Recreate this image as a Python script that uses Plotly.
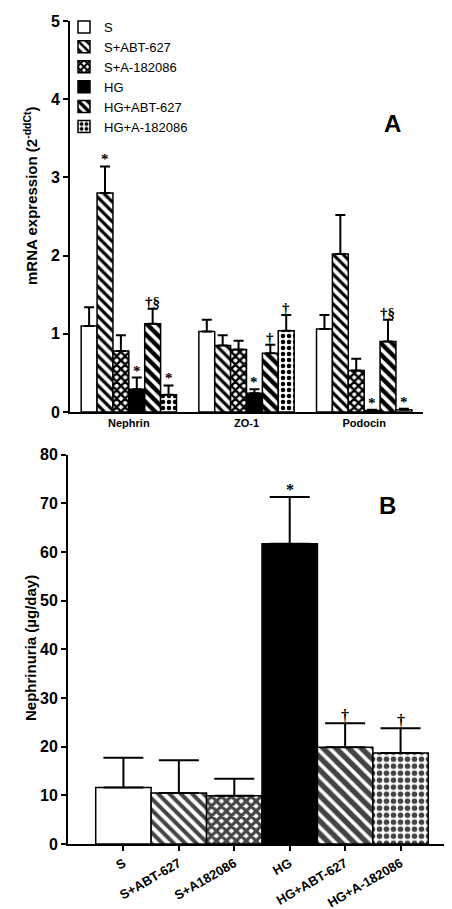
import plotly.graph_objects as go

# ---------------- data ----------------
genes = ["Nephrin", "ZO-1", "Podocin"]
groups = ["S", "S+ABT-627", "S+A-182086", "HG", "HG+ABT-627", "HG+A-182086"]
group_ticklabels = ["S", "S+ABT-627", "S+A182086", "HG", "HG+ABT-627", "HG+A-182086"]

mrna_S = [1.10, 1.03, 1.06]
mrna_S_ABT = [2.80, 0.85, 2.02]
mrna_S_A = [0.78, 0.80, 0.53]
mrna_HG = [0.29, 0.24, 0.02]
mrna_HG_ABT = [1.13, 0.75, 0.90]
mrna_HG_A = [0.22, 1.04, 0.03]

sem_S = [0.24, 0.15, 0.18]
sem_S_ABT = [0.34, 0.13, 0.50]
sem_S_A = [0.20, 0.11, 0.15]
sem_HG = [0.15, 0.05, 0.01]
sem_HG_ABT = [0.19, 0.11, 0.28]
sem_HG_A = [0.12, 0.20, 0.01]

sig_S = ["", "", ""]
sig_S_ABT = ["*", "", ""]
sig_S_A = ["", "", ""]
sig_HG = ["*", "*", "*"]
sig_HG_ABT = ["†§", "†", "†§"]
sig_HG_A = ["*", "†", "*"]

y_ticks_top = [0, 1, 2, 3, 4, 5]
y_ticks_bottom = [0, 10, 20, 30, 40, 50, 60, 70, 80]

nephrinuria = [11.6, 10.5, 9.9, 61.7, 19.9, 18.7]
nephrinuria_sem = [6.1, 6.7, 3.5, 9.6, 4.9, 5.1]
nephrinuria_sig = ["", "", "", "*", "†", "†"]

# ---------------- styling ----------------
W, H = 452, 909
FONT = "Liberation Sans"
SERIF = "Liberation Serif"

styles = [
    dict(color="white", shape="", size=8, solidity=0.3),
    dict(color="white", shape="\\", size=7, solidity=0.45),
    dict(color="white", shape="x", size=6, solidity=0.65),
    dict(color="black", shape="", size=8, solidity=0.3),
    dict(color="white", shape="\\", size=8, solidity=0.55),
    dict(color="white", shape=".", size=6, solidity=0.45),
]

top_vals = [mrna_S, mrna_S_ABT, mrna_S_A, mrna_HG, mrna_HG_ABT, mrna_HG_A]
top_sems = [sem_S, sem_S_ABT, sem_S_A, sem_HG, sem_HG_ABT, sem_HG_A]
top_sigs = [sig_S, sig_S_ABT, sig_S_A, sig_HG, sig_HG_ABT, sig_HG_A]

bargap_top = 0.19
xpos = list(range(len(genes)))

fig = go.Figure()

for j, (name, vals, sems, st) in enumerate(zip(groups, top_vals, top_sems, styles)):
    fig.add_trace(go.Bar(
        x=xpos, y=vals, name=name, xaxis="x", yaxis="y",
        marker=dict(color=st["color"], line=dict(color="black", width=1.5),
                    pattern=dict(shape=st["shape"], fgcolor="black", bgcolor=st["color"],
                                 size=st["size"], solidity=st["solidity"], fgopacity=1)),
        error_y=dict(type="data", symmetric=False, array=sems, arrayminus=[0] * len(sems),
                     color="black", thickness=2, width=5),
        showlegend=True,
    ))

# bottom panel
fig.add_trace(go.Bar(
    x=list(range(len(groups))), y=nephrinuria, xaxis="x2", yaxis="y2", showlegend=False,
    width=1.0,
    marker=dict(color=[s["color"] for s in styles], line=dict(color="black", width=1.5),
                pattern=dict(shape=[s["shape"] for s in styles], fgcolor="black",
                             bgcolor=[s["color"] for s in styles],
                             size=[s["size"] + 1 for s in styles],
                             solidity=[min(s["solidity"] + 0.05, 0.7) for s in styles],
                             fgopacity=1)),
    error_y=dict(type="data", symmetric=False, array=nephrinuria_sem,
                 arrayminus=[0] * len(nephrinuria_sem), color="black", thickness=2, width=20),
))

annotations = []
nb = len(groups)
bw = (1 - bargap_top) / nb
for j in range(nb):
    for i in range(len(genes)):
        s = top_sigs[j][i]
        if s:
            annotations.append(dict(
                x=i + (j - (nb - 1) / 2) * bw, y=top_vals[j][i] + top_sems[j][i],
                xref="x", yref="y", text=f"<b>{s}</b>", showarrow=False, yanchor="bottom",
                yshift=-3, font=dict(family=SERIF, size=15, color="#000000")))
for i, s in enumerate(nephrinuria_sig):
    if s:
        annotations.append(dict(
            x=i, y=nephrinuria[i] + nephrinuria_sem[i], xref="x2", yref="y2",
            text=f"<b>{s}</b>", showarrow=False, yanchor="bottom", yshift=-3,
            font=dict(family=SERIF, size=16, color="#000000")))

annotations += [
    dict(x=395 / W, y=1 - 100 / H, xref="paper", yref="paper", text="<b>A</b>",
         showarrow=False, font=dict(family=FONT, size=24, color="black")),
    dict(x=390 / W, y=1 - 497 / H, xref="paper", yref="paper", text="<b>B</b>",
         showarrow=False, font=dict(family=FONT, size=24, color="black")),
    dict(x=22 / W, y=1 - 188 / H, xref="paper", yref="paper", xanchor="center", yanchor="middle",
         text="<b>mRNA expression (2<sup>-ddCt</sup>)</b>", textangle=-90,
         showarrow=False, font=dict(family=FONT, size=15, color="black")),
    dict(x=22 / W, y=1 - 640 / H, xref="paper", yref="paper", xanchor="center", yanchor="middle",
         text="<b>Nephrinuria (µg/day)</b>", textangle=-90,
         showarrow=False, font=dict(family=FONT, size=15, color="black")),
]

axis_common = dict(showgrid=False, zeroline=False, showline=True, linecolor="black",
                   linewidth=2, ticks="outside", tickcolor="black", tickwidth=2,
                   ticklen=5, automargin=False)

fig.update_layout(
    width=W, height=H, margin=dict(l=0, r=0, t=0, b=0),
    plot_bgcolor="white", paper_bgcolor="white",
    barmode="group", bargap=bargap_top, bargroupgap=0,
    font=dict(family=FONT, color="black"),
    xaxis=dict(axis_common, domain=[62 / W, 415 / W], anchor="y", range=[-0.5, 2.5],
               tickvals=xpos, ticktext=[f"<b>{g}</b>" for g in genes], ticks="",
               tickfont=dict(family=FONT, size=11)),
    yaxis=dict(axis_common, domain=[1 - 404 / H, 1 - 13 / H], anchor="x", range=[0, 5],
               tickvals=y_ticks_top, ticktext=[f"<b>{t}</b>" for t in y_ticks_top],
               tickfont=dict(family=FONT, size=16)),
    xaxis2=dict(axis_common, domain=[60 / W, 448 / W], anchor="y2", range=[-1, 6],
                tickvals=list(range(len(groups))),
                ticktext=[f"<b>{g}</b>" for g in group_ticklabels], tickangle=-30,
                tickfont=dict(family=FONT, size=13)),
    yaxis2=dict(axis_common, domain=[1 - 836 / H, 1 - 446.7 / H], anchor="x2", range=[0, 80],
                tickvals=y_ticks_bottom, ticktext=[f"<b>{t}</b>" for t in y_ticks_bottom],
                tickfont=dict(family=FONT, size=16)),
    legend=dict(x=56 / W, y=1 - 4 / H, xanchor="left", yanchor="top",
                bgcolor="rgba(0,0,0,0)", font=dict(family=FONT, size=13),
                tracegroupgap=0, itemwidth=30),
    annotations=annotations,
)

fig.write_html("out.html")
